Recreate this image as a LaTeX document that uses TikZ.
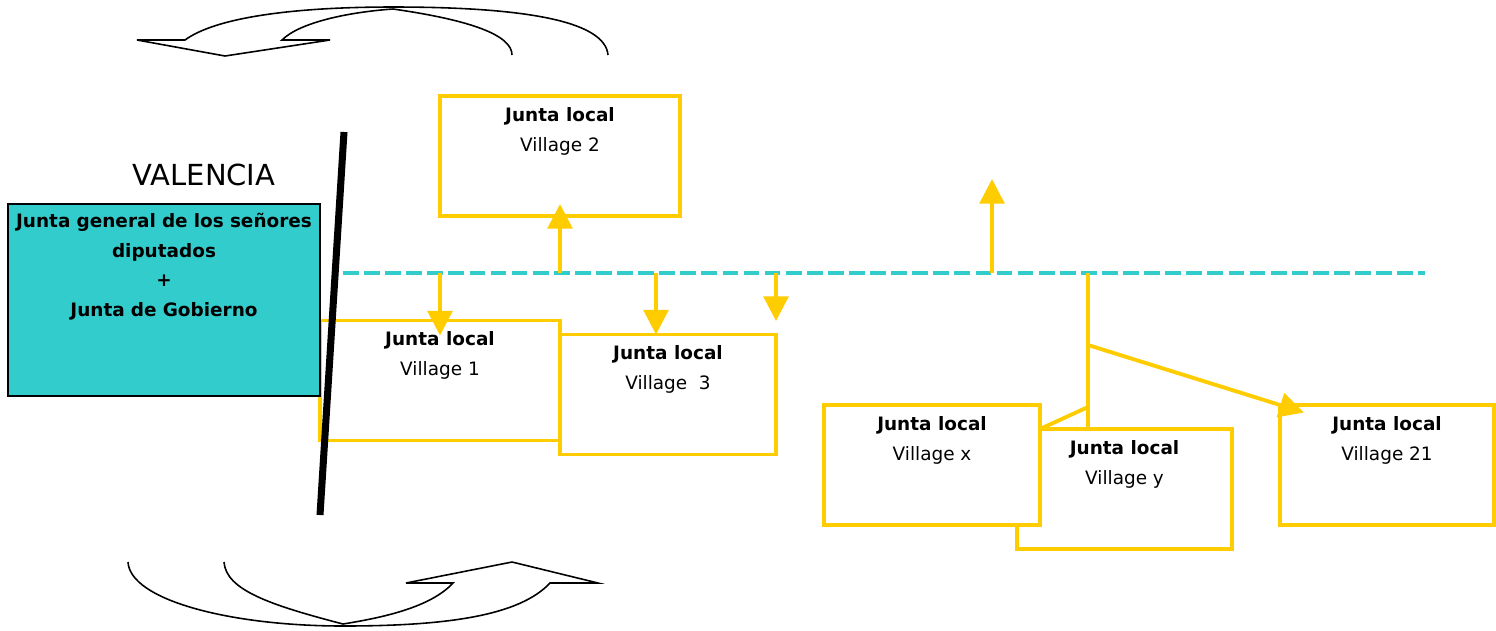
\documentclass[tikz,border=0pt]{standalone}
\usepackage{fontspec}
\setmainfont{DejaVu Sans}
\usetikzlibrary{arrows.meta,positioning}
\definecolor{jyellow}{HTML}{FFCC00}
\definecolor{jteal}{HTML}{33CCCC}
\tikzset{
  jbox/.style={draw=jyellow, line width=2.2pt, fill=white, minimum height=2.4cm, inner sep=0pt, outer sep=0pt},
  jtext/.style={align=center, inner sep=0pt, font=\fontsize{10.5}{17}\selectfont},
  jline/.style={draw=jyellow, line width=2.2pt},
  jarrow/.style={jline, -{Triangle[width=14pt,length=14pt]}},
  swirl/.style={draw=black, line width=0.9pt}
}

\begin{document}
\begin{tikzpicture}[x=0.02cm, y=-0.02cm]
  \useasboundingbox (0,0) rectangle (1496,630);

  \coordinate (w1) at (344,132);
  \coordinate (w2) at (320,515);
  \coordinate (l1) at (343,273);
  \coordinate (l2) at (1425,273);
  \coordinate (d1) at (440,273);
  \coordinate (d2) at (560,273);
  \coordinate (d3) at (656,273);
  \coordinate (d4) at (776,273);
  \coordinate (d4e) at (776,321);
  \coordinate (d5) at (992,273);
  \coordinate (d5e) at (992,179);
  \coordinate (b0) at (1088,273);
  \coordinate (b1) at (1088,345);
  \coordinate (b2) at (1088,407);

  \node [jbox, minimum width=4.8cm] (v1) at (440,380.5) {};
  \node [jtext, below=0.22cm of v1.north] {\textbf{Junta local}\\Village 1};

  \node [draw=black, line width=0.9pt, fill=jteal, minimum width=6.24cm, minimum height=3.84cm, outer sep=0pt] (gen) at (164,300) {};
  \node [jtext, text width=6.2cm, font=\fontsize{10.5}{16.8}\selectfont\bfseries, below=0.18cm of gen.north]
    {Junta general de los señores\\diputados\\+\\Junta de Gobierno};
  \node [font=\fontsize{16.5}{20}\selectfont, anchor=base] (val) at (204,185) {VALENCIA};

  \node [jbox, minimum width=4.8cm] (v2) at (560,156) {};
  \node [jtext, below=0.22cm of v2.north] {\textbf{Junta local}\\Village 2};

  \node [jbox, minimum width=4.32cm] (v3) at (668,394.5) {};
  \node [jtext, below=0.22cm of v3.north] {\textbf{Junta local}\\Village \ 3};

  \node [jbox, minimum width=4.3cm] (vy) at (1124.5,489) {};
  \node [jtext, below=0.22cm of vy.north] {\textbf{Junta local}\\Village y};

  \node [jbox, minimum width=4.32cm] (vx) at (932,465) {};
  \node [jtext, below=0.22cm of vx.north] {\textbf{Junta local}\\Village x};

  \node [jbox, minimum width=4.28cm] (v21) at (1387,465) {};
  \node [jtext, below=0.22cm of v21.north] {\textbf{Junta local}\\Village 21};

  \draw [jteal, line width=2.3pt, dash pattern=on 9pt off 3pt] (l1) -- (l2);

  \draw [jarrow, shorten >=-0.3cm] (d1) -- (d1 |- v1.north);
  \draw [jarrow, shorten >=-0.24cm] (d2) -- (d2 |- v2.south);
  \draw [jarrow] (d3) -- (d3 |- v3.north);
  \draw [jarrow] (d4) -- (d4e);
  \draw [jarrow] (d5) -- (d5e);
  \draw [jline] (b0) -- (b0 |- vy.north);
  \draw [jarrow, shorten >=-0.5cm] (b1) -- (v21.north west);
  \draw [jline] (b2) -- (vx.east |- vy.north);

  \draw [line width=4pt] (w1) -- (w2);

  \draw [swirl] (608,55) .. controls (605,20) and (520,7) .. (393,7)
    .. controls (290,7) and (215,18) .. (185,40) -- (137,40) -- (225,56) -- (330,40) -- (282,40)
    .. controls (300,22) and (350,12) .. (393,9) .. controls (470,20) and (512,35) .. (512,55);
  \draw [swirl] (128,562) .. controls (130,600) and (230,626) .. (343,626)
    .. controls (450,626) and (520,615) .. (550,583) -- (598,583) -- (512,562) -- (406,583) -- (453,583)
    .. controls (430,608) and (380,618) .. (343,624) .. controls (270,605) and (226,590) .. (224,562);
\end{tikzpicture}
\end{document}
